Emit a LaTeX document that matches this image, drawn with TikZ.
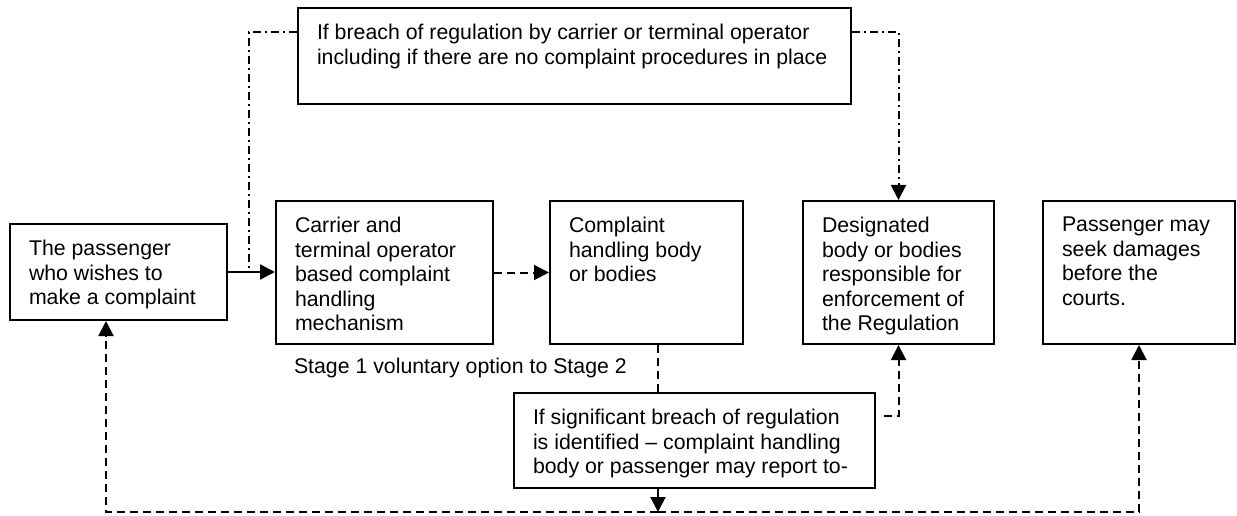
\documentclass[tikz,border=0pt]{standalone}
\usepackage{fontspec}
\setmainfont{Liberation Sans}
\usetikzlibrary{arrows.meta}
\tikzstyle{background}=[rectangle, fill=white, draw=none]
\newcommand{\boxtext}[3]{\parbox[t][#2][t]{#1}{\raggedright #3}}

\begin{document}
\begin{tikzpicture}[x=1pt,y=1pt,line width=2pt,>={Triangle[length=15pt,width=15pt]}]
  \tikzstyle{box}=[draw,anchor=north west,inner xsep=19pt,inner ysep=16pt,font=\fontsize{21.3}{24.6}\selectfont]
  \tikzstyle{lables}=[inner sep=0pt,font=\fontsize{21.3}{24.6}\selectfont]
  \tikzstyle{dashline}=[dash pattern=on 8pt off 5pt]
  \tikzstyle{dashdotline}=[dash pattern=on 8pt off 4pt on 2pt off 4pt]
  \useasboundingbox (0,0) rectangle (1237,515);
  \node (passenger) at (9,292) [box] {\boxtext{179pt}{64pt}{The passenger\\who wishes to\\make a complaint}};
  \node (carrier) at (275,315) [box] {\boxtext{179pt}{111pt}{Carrier and\\terminal operator\\based complaint\\handling\\mechanism}};
  \node (handling) at (549,315) [box] {\boxtext{155pt}{111pt}{Complaint\\handling body\\or bodies}};
  \node (designated) at (802,315) [box] {\boxtext{153pt}{111pt}{Designated\\body or bodies\\responsible for\\enforcement of\\the Regulation}};
  \node (courts) at (1042,315) [box] {\boxtext{154pt}{111pt}{Passenger may\\seek damages\\before the\\courts.}};
  \node (breach) at (297,508) [box] {\boxtext{515pt}{64pt}{If breach of regulation by carrier or terminal operator\\including if there are no complaint procedures in place}};
  \node (significant) at (513,123) [box] {\boxtext{323pt}{63pt}{If significant breach of regulation\\is identified -- complaint handling\\body or passenger may report to-}};
  \node[lables,anchor=base west] (stagelabel) at (293,142) {Stage 1 voluntary option to Stage 2};
  \coordinate (join) at (249,243.5);
  \coordinate (drop) at (658,3);
  \draw [->] (passenger.east) -- (passenger.east -| carrier.west);
  \draw [dashdotline] ([yshift=-25pt]breach.north west) -| (join);
  \draw [dashdotline,->] ([yshift=-25pt]breach.north east) -| (designated.north);
  \draw [dashline,->] (carrier.east) -- (handling.west);
  \draw [dashline] (handling.south -| drop) -- (significant.north -| drop);
  \draw [dashline,->] (significant.south -| drop) -- (drop);
  \draw [dashline,->] ([xshift=8pt,yshift=-24pt]significant.north east) -| (designated.south);
  \draw [dashline,->] (drop) -| ([xshift=-12.5pt]passenger.south);
  \draw [dashline,->] (drop) -| (courts.south);
\end{tikzpicture}
\end{document}
